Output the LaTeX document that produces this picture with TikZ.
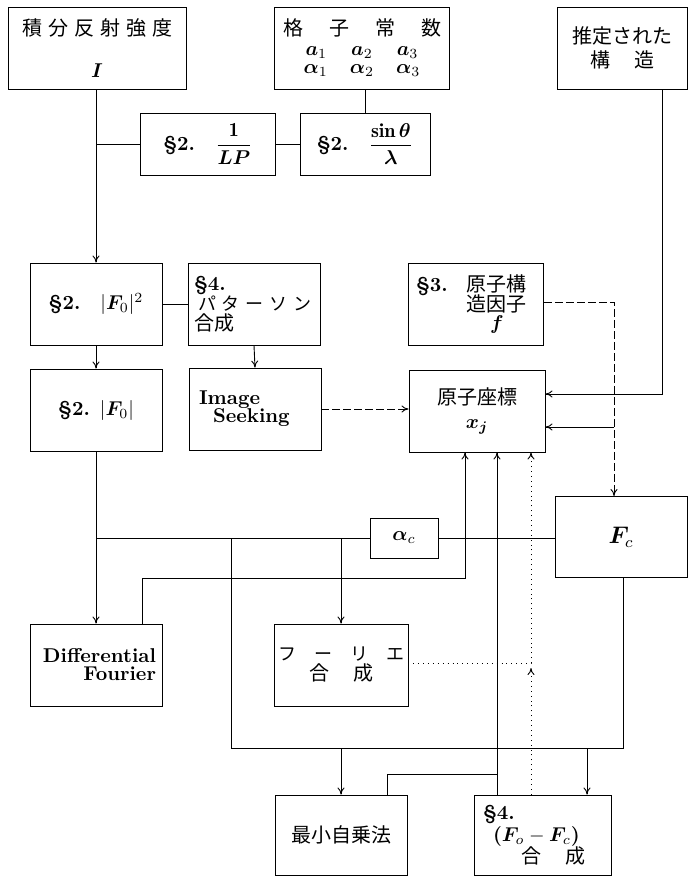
\documentclass[tikz,border=0pt]{standalone}
\usepackage{amsmath,amssymb,bm}
\usepackage{fontspec}
\newfontfamily\jp{Noto Sans CJK JP}
\usetikzlibrary{positioning,arrows.meta}
\newcommand{\jgap}{\hspace{3pt}}
\newcommand{\jt}[1]{{\jp\mdseries #1}}

\begin{document}
\begin{tikzpicture}[x=0.5pt, y=-0.5pt, >={To[length=3.5pt,width=3.5pt]},
    every path/.style={line width=0.45pt},
    box/.style={draw, rectangle, minimum width=66pt, minimum height=41pt, inner sep=2pt, align=center, font=\bfseries},
    lbox/.style={box, text width=60pt, align=left},
    rbox/.style={box, text width=60pt, align=right},
    loose/.style={dash pattern=on 4pt off 1.5pt}]
    \useasboundingbox (0,0) rectangle (688,877);

    % top row
    \node[box, minimum width=89pt] (intens) at (97,48) {\jt{積\jgap 分\jgap 反\jgap 射\jgap 強\jgap 度}\\[9pt] $\bm{I}$};
    \node[box, minimum width=87.5pt] (lattice) at (362,48) {\jt{格\hspace{13pt}子\hspace{13pt}常\hspace{13pt}数}\\[-2pt] $\bm{a}_1\hspace{12pt}\bm{a}_2\hspace{12pt}\bm{a}_3$\\[-3pt] $\bm{\alpha}_1\hspace{11pt}\bm{\alpha}_2\hspace{11pt}\bm{\alpha}_3$};
    \node[box, minimum width=65pt] (guess) at (622,48) {\jt{推定された}\\ \jt{構\hspace{12pt}造}};
    \node[box, minimum width=67.5pt, minimum height=31pt] (lp) at (208,144) {§2.\hspace{10pt}$\dfrac{\mathbf{1}}{\bm{L}\bm{P}}$};
    \node[box, minimum width=65pt, minimum height=31pt] (sin) at (365,144) {§2.\hspace{10pt}$\dfrac{\mathbf{sin}\,\bm{\theta}}{\bm{\lambda}}$};

    % middle
    \node[box] (fsq) at (96,304) {§2.\hspace{10pt}$|\bm{F}_0|^2$};
    \node[lbox] (patt) at (254,304) {§4.\\[-2pt] \hspace{2pt}\jt{\small パ\jgap タ\jgap ー\jgap ソ\jgap ン}\\[-2pt] \jt{合成}};
    \node[box] (fabs) at (96,410) {§2.\hspace{5pt}$|\bm{F}_0|$};
    \node[lbox] (seek) at (255,409) {\hspace{2pt}Image\\[-3pt] \hspace{9pt}Seeking};
    \node[lbox, minimum width=67.5pt] (sf) at (476,304) {\makebox[25pt][l]{§3.}\jt{原子構}\\[-2pt] \hspace{25pt}\jt{造因子}\\[-3pt] \hspace{37pt}$\bm{f}$};
    \node[box, minimum width=68pt] (coord) at (477,411) {\jt{原子座標}\\ $\bm{x}_{\bm{j}}$};
    \node[box, minimum width=34pt, minimum height=20pt] (alpha) at (404,538) {$\bm{\alpha}_c$};
    \node[box, minimum height=40.5pt] (fc) at (621,537) {\large$\bm{F}_c$};

    % lower
    \node[rbox] (diff) at (96,665) {Differential\\[-3pt] Fourier};
    \node[box] (four) at (341,665) {\jt{\small フ\hspace{9pt}ー\hspace{9pt}リ\hspace{9pt}エ}\\[-2pt] \jt{合\hspace{12pt}成}};
    \node[box, minimum height=40pt] (lsq) at (341,835) {\jt{最小自乗法}};
    \node[lbox, minimum width=68.5pt, minimum height=40pt] (fofc) at (543,835) {§4.\\[-1pt] \hspace{5pt}($\bm{F}_o-\bm{F}_c$)\\[-1pt] \hspace{19pt}\jt{合\hspace{12pt}成}};

    \coordinate (gturn) at (662,394);
    \coordinate (fturn) at (614,302);
    \coordinate (fback) at (614,427);
    \coordinate (jl) at (231,748);
    \coordinate (jr) at (623,748);
    \coordinate (jf) at (587,748);
    \coordinate (dturn) at (142,578);
    \coordinate (up1) at (465,578);
    \coordinate (up2) at (497,774);
    \coordinate (lturn) at (387,774);
    \coordinate (up3) at (531,663);
    \coordinate (up3b) at (531,668);

    \draw[->] (intens.south -| fsq.north) -- (fsq.north);
    \draw (lp.west) -- (lp.west -| fsq.north);
    \draw (lp.east) -- (sin.west);
    \draw (lattice.south -| sin.north) -- (sin.north);
    \draw[->] (guess.south -| gturn) -- (gturn) -- (gturn -| coord.east);
    \draw (fsq.east) -- (patt.west);
    \draw[->] (fsq.south) -- (fabs.north);
    \draw[->] (patt.south) -- (seek.north);
    \draw[->, loose] (seek.east) -- (seek.east -| coord.west);
    \draw[->, loose] (sf.east |- fturn) -- (fturn) -- (fturn |- fc.north);
    \draw[->] (fback) -- (fback -| coord.east);
    \draw[->] (fabs.south) -- (diff.north);
    \draw (fabs.south |- alpha.west) -- (alpha.west);
    \draw (alpha.east) -- (alpha.east -| fc.west);
    \draw (jl |- alpha.west) -- (jl) -- (jr) -- (jr |- fc.south);
    \draw[->] (four.north |- alpha.west) -- (four.north);
    \draw[->] (lsq.north |- jl) -- (lsq.north);
    \draw[->] (jf) -- (jf |- fofc.north);
    \draw[->] (diff.north -| dturn) -- (dturn) -- (up1) -- (up1 |- coord.south);
    \draw[->] (fofc.north -| up2) -- (up2 |- coord.south);
    \draw (lsq.north -| lturn) -- (lturn) -- (up2);
    \draw[dotted, ->] (four.east |- up3) -- (up3) -- (up3 |- coord.south);
    \draw[dotted, ->] (fofc.north -| up3) -- (up3b);
\end{tikzpicture}
\end{document}
